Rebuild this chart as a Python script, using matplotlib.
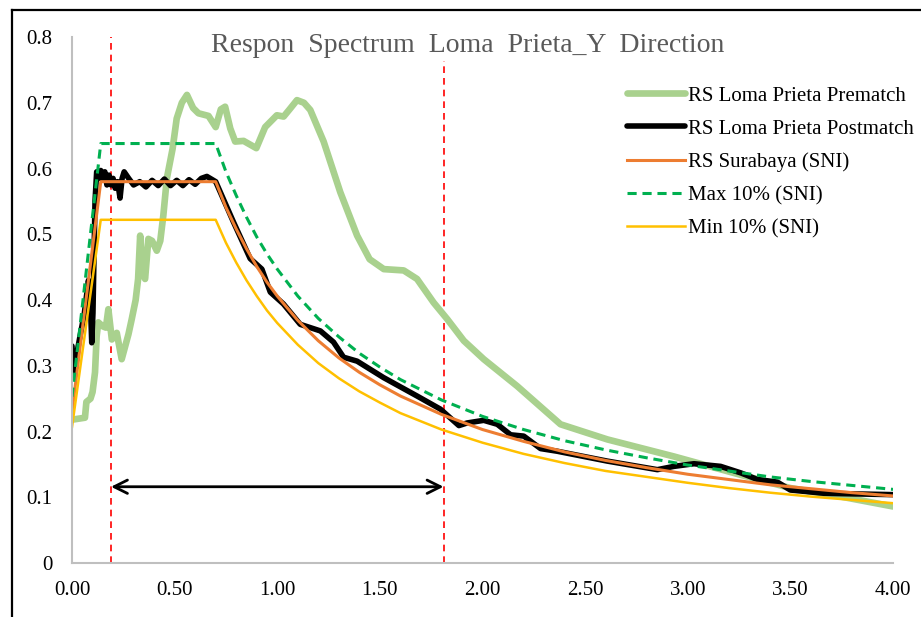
import numpy as np
import matplotlib
matplotlib.use("Agg")
import matplotlib.pyplot as plt
from matplotlib.lines import Line2D

plt.rcParams['font.family'] = ['Liberation Serif', 'DejaVu Serif']

# RS Loma Prieta, before matching (period T [s], Sa [g])
t_pre = [0.00, 0.063, 0.07, 0.09, 0.10, 0.112, 0.12, 0.128, 0.15, 0.165, 0.177, 0.194,
         0.218, 0.242, 0.275, 0.291, 0.31, 0.322, 0.332, 0.345, 0.356, 0.372, 0.39, 0.413,
         0.43, 0.445, 0.462, 0.49, 0.51, 0.535, 0.56, 0.59, 0.616, 0.665, 0.70, 0.725,
         0.746, 0.771, 0.795, 0.836, 0.898, 0.941, 0.998, 1.031, 1.06, 1.096, 1.13, 1.161,
         1.226, 1.307, 1.389, 1.45, 1.519, 1.616, 1.681, 1.762, 1.828, 1.909, 2.006, 2.169,
         2.38, 2.608, 2.933, 3.259, 3.50, 3.746, 4.00]
sa_pre = [0.218, 0.221, 0.245, 0.25, 0.26, 0.29, 0.345, 0.366, 0.36, 0.358, 0.386, 0.34,
          0.35, 0.31, 0.348, 0.371, 0.40, 0.432, 0.498, 0.44, 0.432, 0.493, 0.49, 0.475,
          0.49, 0.529, 0.585, 0.63, 0.676, 0.70, 0.712, 0.692, 0.684, 0.68, 0.663, 0.69,
          0.694, 0.661, 0.641, 0.642, 0.631, 0.663, 0.681, 0.679, 0.69, 0.704, 0.70, 0.689,
          0.641, 0.564, 0.498, 0.462, 0.447, 0.445, 0.432, 0.396, 0.371, 0.338, 0.31, 0.269,
          0.211, 0.188, 0.162, 0.134, 0.114, 0.101, 0.086]

# RS Loma Prieta, after matching
t_post = [0.00, 0.004, 0.008, 0.03, 0.06, 0.08, 0.088, 0.096, 0.102, 0.112, 0.12, 0.13,
          0.14, 0.15, 0.16, 0.17, 0.18, 0.19, 0.20, 0.21, 0.222, 0.234, 0.244, 0.254,
          0.276, 0.30, 0.33, 0.36, 0.39, 0.42, 0.45, 0.48, 0.51, 0.54, 0.57, 0.60, 0.63,
          0.657, 0.70, 0.786, 0.868, 0.925, 0.966, 1.03, 1.112, 1.21, 1.274, 1.323, 1.389,
          1.518, 1.681, 1.795, 1.885, 1.925, 2.006, 2.072, 2.137, 2.201, 2.283, 2.364,
          2.608, 2.852, 2.933, 3.03, 3.16, 3.259, 3.34, 3.437, 3.50, 3.665, 4.00]
sa_post = [0.33, 0.30, 0.29, 0.33, 0.38, 0.43, 0.41, 0.335, 0.38, 0.55, 0.595, 0.585,
           0.597, 0.582, 0.595, 0.575, 0.59, 0.575, 0.585, 0.57, 0.58, 0.555, 0.585, 0.595,
           0.585, 0.575, 0.58, 0.572, 0.582, 0.574, 0.584, 0.574, 0.582, 0.574, 0.583,
           0.576, 0.585, 0.588, 0.58, 0.519, 0.463, 0.447, 0.412, 0.394, 0.363, 0.353,
           0.336, 0.313, 0.307, 0.282, 0.254, 0.234, 0.209, 0.213, 0.217, 0.211, 0.195,
           0.193, 0.174, 0.170, 0.155, 0.142, 0.147, 0.151, 0.147, 0.137, 0.127, 0.123,
           0.111, 0.106, 0.104]

# design spectrum Surabaya (SNI) and +/-10% bounds
t_sni = [0.00, 0.14, 0.70, 0.75, 0.80, 0.85, 0.90, 0.95, 1.0, 1.1, 1.2, 1.3, 1.4, 1.5,
         1.6, 1.8, 2.0, 2.2, 2.4, 2.6, 2.8, 3.0, 3.2, 3.4, 3.6, 3.8, 4.0]
sa_sni = [0.23, 0.58, 0.58, 0.541, 0.508, 0.478, 0.451, 0.427, 0.406, 0.369, 0.338, 0.312,
          0.290, 0.271, 0.254, 0.226, 0.203, 0.185, 0.169, 0.156, 0.145, 0.135, 0.127,
          0.119, 0.113, 0.107, 0.102]
sa_max = [0.253, 0.638, 0.638, 0.595, 0.559, 0.526, 0.496, 0.470, 0.447, 0.406, 0.372,
          0.344, 0.319, 0.298, 0.279, 0.248, 0.223, 0.203, 0.186, 0.172, 0.160, 0.149,
          0.140, 0.131, 0.124, 0.118, 0.112]
sa_min = [0.207, 0.522, 0.522, 0.487, 0.457, 0.430, 0.406, 0.384, 0.365, 0.332, 0.304,
          0.281, 0.261, 0.244, 0.228, 0.203, 0.183, 0.166, 0.152, 0.140, 0.131, 0.122,
          0.114, 0.107, 0.101, 0.096, 0.091]

# matching period range (0.2T - 1.5T)
t_range = [0.19, 1.81]
arrow_y = 0.116

fig = plt.figure(figsize=(9.21, 6.17), dpi=100)
ax = fig.add_axes([0.0782, 0.0875, 0.8914, 0.8525])

ax.plot(t_pre, sa_pre, color='#A9D18E', lw=4.8, solid_joinstyle='round',
        solid_capstyle='round', label='RS Loma Prieta Prematch')
ax.plot(t_post, sa_post, color='black', lw=4.0, solid_joinstyle='round',
        solid_capstyle='round', label='RS Loma Prieta Postmatch')
ax.plot(t_sni, sa_sni, color='#ED7D31', lw=2.2, label='RS Surabaya (SNI)')
ax.plot(t_sni, sa_max, color='#00B050', lw=2.2, ls=(0, (3.0, 1.9)), label='Max 10% (SNI)')
ax.plot(t_sni, sa_min, color='#FFC000', lw=1.8, label='Min 10% (SNI)')

for t in t_range:
    ax.axvline(t, color='#FF0000', lw=1.2, ls=(0, (4, 3)), zorder=1)

ax.annotate('', xy=(t_range[1], arrow_y), xytext=(t_range[0], arrow_y),
            arrowprops=dict(arrowstyle='<->', color='black', lw=2.0,
                            mutation_scale=24, shrinkA=0, shrinkB=0))

ax.set_xlim(0, 4)
ax.set_ylim(0, 0.8)
ax.set_xticks(np.arange(0, 4.01, 0.5))
ax.set_xticklabels(['%.2f' % v for v in np.arange(0, 4.01, 0.5)])
ax.set_yticks(np.arange(0, 0.81, 0.1))
ax.set_yticklabels(['0'] + ['%.1f' % v for v in np.arange(0.1, 0.81, 0.1)])
ax.tick_params(length=0, labelsize=15, colors='black')
ax.tick_params(axis='y', pad=14)
ax.tick_params(axis='x', pad=13)
for side in ['top', 'right']:
    ax.spines[side].set_visible(False)
for side in ['left', 'bottom']:
    ax.spines[side].set_color('#BFBFBF')
    ax.spines[side].set_linewidth(1.5)

fig.text(0.508, 0.926, 'Respon  Spectrum  Loma  Prieta_Y  Direction', ha='center',
         va='center', fontsize=20, color='#595959',
         bbox=dict(facecolor='white', edgecolor='none', pad=2))

ax.legend(loc='upper left', bbox_to_anchor=(0.672, 0.874), bbox_transform=fig.transFigure,
          frameon=False, fontsize=15, handlelength=2.75, handletextpad=0.15,
          labelspacing=0.65, borderaxespad=0)

# outer chart border (left and top only visible)
fig.add_artist(Line2D([11.5 / 921, 11.5 / 921], [0, 1 - 10 / 617], color='black', lw=1.6))
fig.add_artist(Line2D([11.5 / 921, 1], [1 - 10 / 617, 1 - 10 / 617], color='black', lw=1.6))

fig.savefig('out.png', dpi=100)
